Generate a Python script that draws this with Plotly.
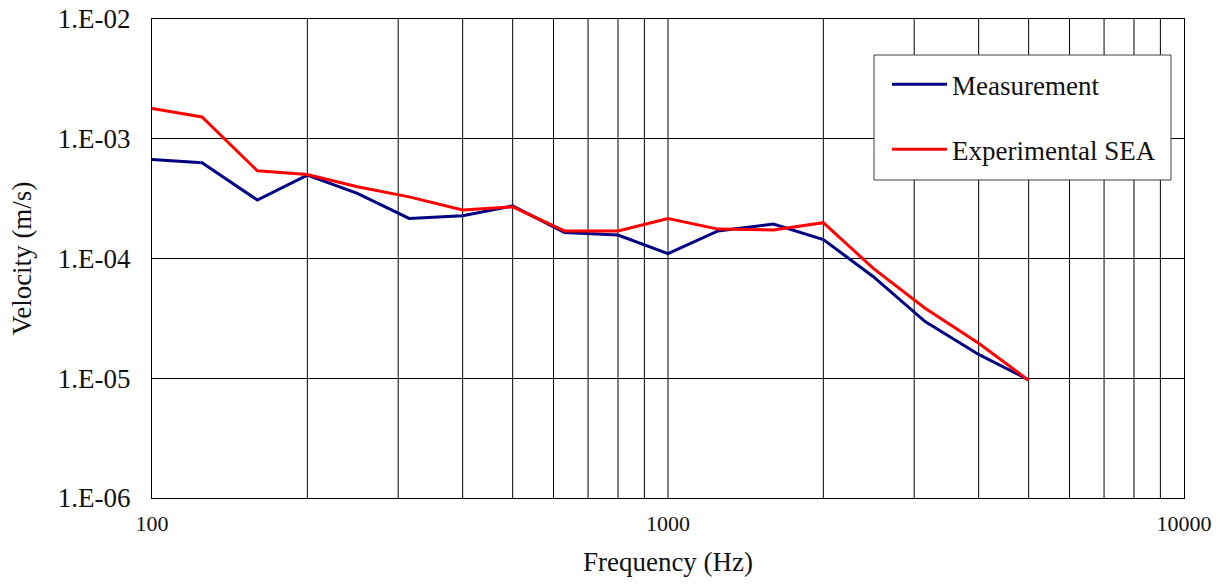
import plotly.graph_objects as go

freq = [100, 125, 160, 200, 250, 315, 400, 500, 630, 800, 1000, 1250, 1600, 2000, 2500, 3150, 4000, 5000]
measurement = [6.7e-4, 6.3e-4, 3.08e-4, 4.97e-4, 3.5e-4, 2.16e-4, 2.28e-4, 2.75e-4, 1.65e-4, 1.57e-4,
               1.10e-4, 1.70e-4, 1.94e-4, 1.44e-4, 7.05e-5, 2.97e-5, 1.58e-5, 9.7e-6]
experimental_sea = [1.79e-3, 1.52e-3, 5.4e-4, 5.03e-4, 3.97e-4, 3.27e-4, 2.54e-4, 2.7e-4, 1.70e-4, 1.70e-4,
                    2.16e-4, 1.76e-4, 1.73e-4, 1.99e-4, 8.28e-5, 3.84e-5, 1.96e-5, 9.6e-6]

y_tickvals = [1e-6, 1e-5, 1e-4, 1e-3, 1e-2]
y_ticktext = ["1.E-06", "1.E-05", "1.E-04", "1.E-03", "1.E-02"]
x_tickvals = [100, 1000, 10000]
x_ticktext = ["100", "1000", "10000"]
x_grid = [200, 300, 400, 500, 600, 700, 800, 900, 1000, 2000, 3000, 4000, 5000, 6000, 7000, 8000, 9000]

FONT = "Liberation Serif, Times New Roman, serif"
TXT = "#111111"

fig = go.Figure()
fig.add_trace(go.Scatter(x=freq, y=measurement, mode="lines", name="Measurement",
                         line=dict(color="#000080", width=3), legendgroup="a"))
fig.add_trace(go.Scatter(x=freq, y=experimental_sea, mode="lines", name="Experimental SEA",
                         line=dict(color="#FF0000", width=3), legendgroup="b"))

shapes = []
for g in x_grid:
    shapes.append(dict(type="line", xref="x", yref="paper", x0=g, x1=g, y0=0, y1=1,
                       line=dict(color="black", width=1), layer="below"))
# legend frame
shapes.append(dict(type="rect", xref="paper", yref="paper", x0=0.6996, x1=0.9874, y0=0.6639, y1=0.9248,
                   line=dict(color="#404040", width=1), fillcolor="white", layer="above"))

fig.update_layout(
    width=1230, height=586,
    margin=dict(l=152, r=46, t=19, b=88),
    paper_bgcolor="white", plot_bgcolor="white",
    font=dict(family=FONT, size=27, color=TXT),
    shapes=shapes,
    showlegend=True,
    legend=dict(x=0.7122, y=0.914, xanchor="left", yanchor="top",
                bgcolor="rgba(0,0,0,0)", borderwidth=0,
                font=dict(family=FONT, size=27, color=TXT),
                tracegroupgap=27, itemwidth=55, traceorder="grouped"),
)
fig.update_xaxes(type="log", range=[2, 4], tickvals=x_tickvals, ticktext=x_ticktext,
                 showgrid=False, showline=True, linecolor="black", linewidth=1, mirror=True,
                 ticks="", ticklabelstandoff=6, ticklabeloverflow="allow",
                 tickfont=dict(family=FONT, size=22, color=TXT),
                 title=dict(text="Frequency (Hz)", font=dict(family=FONT, size=27, color=TXT), standoff=16),
                 zeroline=False, automargin=False)
fig.update_yaxes(type="log", range=[-6, -2], tickvals=y_tickvals, ticktext=y_ticktext,
                 showgrid=True, gridcolor="black", gridwidth=1,
                 showline=True, linecolor="black", linewidth=1, mirror=True,
                 ticks="", ticklabelstandoff=15, ticklabeloverflow="allow",
                 tickfont=dict(family=FONT, size=27, color=TXT),
                 title=dict(text="Velocity (m/s)", font=dict(family=FONT, size=27, color=TXT), standoff=18),
                 zeroline=False, automargin=False)

fig.write_html("out.html", config={"displayModeBar": False},
               post_script="document.body.style.margin='0';")
